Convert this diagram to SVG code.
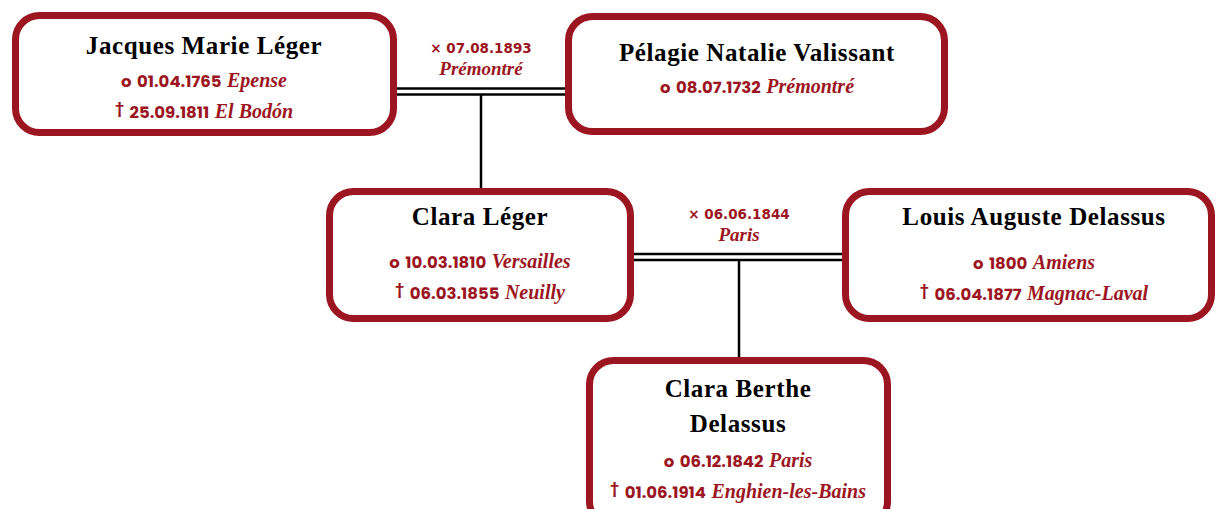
<svg xmlns="http://www.w3.org/2000/svg" width="1216" height="509" viewBox="0 0 1216 509">
<style>
.box{fill:#fff;stroke:#9C1622;stroke-width:7}
.ln{stroke:#000;stroke-width:2.5;fill:none}
.nm{font-family:"Liberation Serif","DejaVu Serif",serif;font-weight:bold;font-size:25px;letter-spacing:0.6px;fill:#000;text-anchor:middle}
.dt{font-family:"Poppins","DejaVu Sans","Liberation Sans",sans-serif;font-weight:bold;font-size:16.5px;word-spacing:2px;fill:#9C1622;text-anchor:middle}
.pl{font-family:"Liberation Serif","DejaVu Serif",serif;font-style:italic;font-weight:bold;font-size:20px;word-spacing:0}
.dg{font-size:14px}
.mr{font-family:"DejaVu Sans","Liberation Sans",sans-serif;font-weight:bold;font-size:13.5px;fill:#9C1622;text-anchor:middle}
.mp{font-family:"Liberation Serif","DejaVu Serif",serif;font-style:italic;font-weight:bold;font-size:19px;fill:#9C1622;text-anchor:middle}
</style>
<rect width="1216" height="509" fill="#fff"/>
<g id="connectors">
<line class="ln" x1="396" y1="88.5" x2="566" y2="88.5"/>
<line class="ln" x1="396" y1="94.5" x2="566" y2="94.5"/>
<line class="ln" x1="481" y1="95" x2="481" y2="189"/>
<text class="mr" x="481" y="53">× 07.08.1893</text>
<text class="mp" x="481" y="75">Prémontré</text>
<line class="ln" x1="633" y1="254" x2="843" y2="254"/>
<line class="ln" x1="633" y1="260" x2="843" y2="260"/>
<line class="ln" x1="739" y1="260" x2="739" y2="358"/>
<text class="mr" x="739" y="219">× 06.06.1844</text>
<text class="mp" x="739" y="241">Paris</text>
</g>
<g id="jacques">
<rect class="box" x="15.5" y="15.5" width="378" height="117" rx="24"/>
<text class="nm" x="204" y="54">Jacques Marie Léger</text>
<text class="dt" x="204" y="87">o 01.04.1765 <tspan class="pl">Epense</tspan></text>
<text class="dt" x="204" y="118"><tspan class="dg" dy="-5">†</tspan><tspan dy="5"> 25.09.1811 </tspan><tspan class="pl">El Bodón</tspan></text>
</g>
<g id="pelagie">
<rect class="box" x="568.5" y="16.5" width="376" height="115" rx="24"/>
<text class="nm" x="757" y="61">Pélagie Natalie Valissant</text>
<text class="dt" x="757" y="93">o  08.07.1732 <tspan class="pl">Prémontré</tspan></text>
</g>
<g id="clara-leger">
<rect class="box" x="329.5" y="191.5" width="301" height="127" rx="24"/>
<text class="nm" x="480" y="225">Clara Léger</text>
<text class="dt" x="480" y="268">o 10.03.1810 <tspan class="pl">Versailles</tspan></text>
<text class="dt" x="480" y="299"><tspan class="dg" dy="-5">†</tspan><tspan dy="5"> 06.03.1855 </tspan><tspan class="pl">Neuilly</tspan></text>
</g>
<g id="louis">
<rect class="box" x="845.5" y="191.5" width="366" height="127" rx="24"/>
<text class="nm" x="1034" y="225">Louis Auguste Delassus</text>
<text class="dt" x="1034" y="269">o 1800 <tspan class="pl">Amiens</tspan></text>
<text class="dt" x="1034" y="300"><tspan class="dg" dy="-5">†</tspan><tspan dy="5"> 06.04.1877 </tspan><tspan class="pl">Magnac-Laval</tspan></text>
</g>
<g id="clara-berthe">
<rect class="box" x="589.5" y="360.5" width="298" height="165" rx="24"/>
<text class="nm" x="738" y="397">Clara Berthe</text>
<text class="nm" x="738" y="432">Delassus</text>
<text class="dt" x="738" y="467">o 06.12.1842 <tspan class="pl">Paris</tspan></text>
<text class="dt" x="738" y="498"><tspan class="dg" dy="-5">†</tspan><tspan dy="5"> 01.06.1914 </tspan><tspan class="pl">Enghien-les-Bains</tspan></text>
</g>
</svg>
